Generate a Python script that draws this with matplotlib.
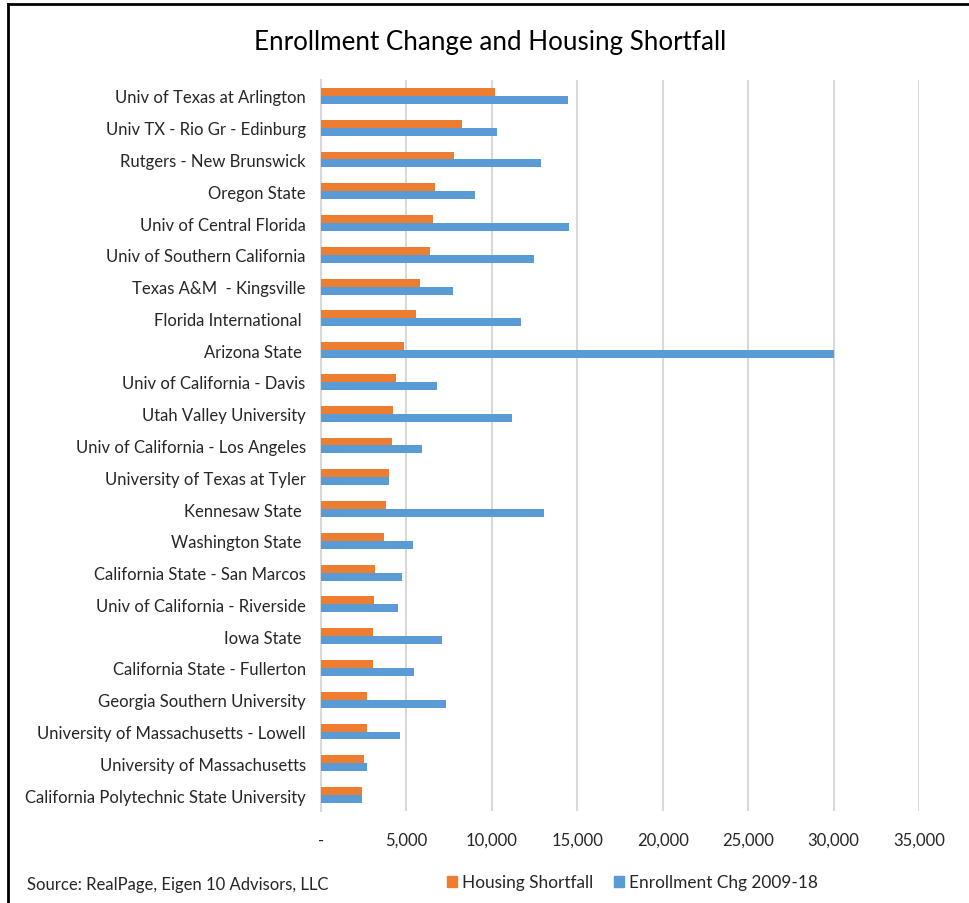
import matplotlib
matplotlib.use('Agg')
import matplotlib.pyplot as plt
from matplotlib.patches import Patch
from matplotlib.lines import Line2D
import numpy as np

schools = ['Univ of Texas at Arlington', 'Univ TX - Rio Gr - Edinburg', 'Rutgers - New Brunswick',
           'Oregon State', 'Univ of Central Florida', 'Univ of Southern California',
           'Texas A&M  - Kingsville', 'Florida International ', 'Arizona State ',
           'Univ of California - Davis', 'Utah Valley University', 'Univ of California - Los Angeles',
           'University of Texas at Tyler', 'Kennesaw State ', 'Washington State ',
           'California State - San Marcos', 'Univ of California - Riverside', 'Iowa State ',
           'California State - Fullerton', 'Georgia Southern University',
           'University of Massachusetts - Lowell', 'University of Massachusetts',
           'California Polytechnic State University']
housing = [10200, 8260, 7790, 6670, 6560, 6380, 5810, 5580, 4840, 4390, 4210, 4150,
           3970, 3820, 3700, 3190, 3110, 3050, 3020, 2720, 2720, 2490, 2430]
enroll = [14440, 10330, 12880, 9000, 14540, 12490, 7710, 11680, 30050, 6770, 11180, 5930,
          3990, 13070, 5370, 4720, 4500, 7070, 5420, 7300, 4600, 2720, 2430]
xticks = [0, 5000, 10000, 15000, 20000, 25000, 30000, 35000]
xlabels = ['-', '5,000', '10,000', '15,000', '20,000', '25,000', '30,000', '35,000']

plt.rcParams['font.family'] = ['Lato', 'DejaVu Sans']
orange = '#ED7D31'
blue = '#5B9BD5'

fig = plt.figure(figsize=(9.7, 9.04), dpi=100)
ax = fig.add_axes([0.3309, 0.1018, 0.6165, 0.8086])

y = np.arange(len(schools))
h = 0.25
ax.barh(y - h/2, housing, height=h, color=orange, zorder=3)
ax.barh(y + h/2, enroll, height=h, color=blue, zorder=3)

ax.set_ylim(len(schools) - 0.5, -0.5)
ax.set_xlim(0, 35000)
ax.set_yticks(y)
ax.set_yticklabels(schools, fontsize=12, color='#262626')
ax.set_xticks(xticks)
ax.set_xticklabels(xlabels, fontsize=12, color='#262626')
ax.tick_params(length=0)
ax.tick_params(axis='y', pad=11)
ax.tick_params(axis='x', pad=15)
ax.grid(axis='x', color='#D9D9D9', linewidth=1.5, zorder=0)
for s in ['top', 'right', 'bottom']:
    ax.spines[s].set_visible(False)
ax.spines['left'].set_color('#D9D9D9')
ax.spines['left'].set_linewidth(1.5)

fig.text(0.505, 0.953, 'Enrollment Change and Housing Shortfall', ha='center', va='center',
         fontsize=18.7, color='#000000')
fig.text(0.028, 0.021, 'Source: RealPage, Eigen 10 Advisors, LLC', ha='left', va='center',
         fontsize=12, color='#262626')

handles = [Patch(color=orange, label='Housing Shortfall'),
           Patch(color=blue, label='Enrollment Chg 2009-18')]
fig.legend(handles=handles, loc='center', bbox_to_anchor=(0.652, 0.023), ncol=2, frameon=False,
           fontsize=12.4, handlelength=0.6, handleheight=0.6, handletextpad=0.3,
           columnspacing=1.2, labelcolor='#262626')

# border lines of the screenshot
fig.add_artist(Line2D([8/970, 8/970], [0, 1 - 5/904], color='black', linewidth=2,
                      transform=fig.transFigure))
fig.add_artist(Line2D([8/970, 1], [1 - 5/904, 1 - 5/904], color='black', linewidth=2,
                      transform=fig.transFigure))

fig.savefig('out.png', dpi=100)
